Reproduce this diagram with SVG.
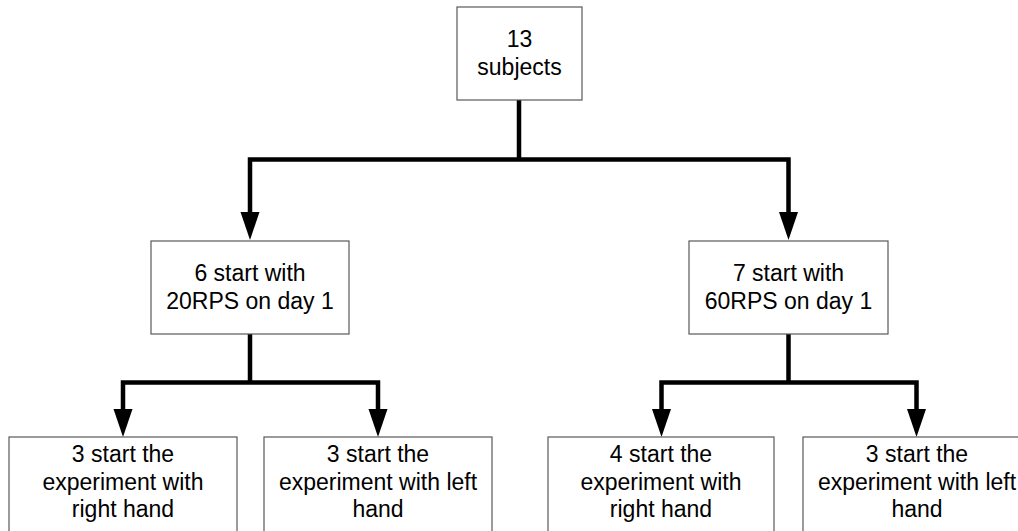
<svg xmlns="http://www.w3.org/2000/svg" width="1018" height="531" viewBox="0 0 1018 531">
<style>
.box{fill:#fff;stroke:#595959;stroke-width:1.2}
.t{font-family:"Liberation Sans",Arial,sans-serif;font-size:23px;fill:#000;text-anchor:middle}
.c{fill:none;stroke:#000;stroke-width:4.5;stroke-linejoin:miter}
.ah{fill:#000}
</style>
<g id="connectors">
<path class="c" d="M519,100 V159.5"/>
<path class="c" d="M250,212 V159.5 H788.5 V212"/>
<polygon class="ah" points="240.5,212 259.5,212 250,240"/>
<polygon class="ah" points="779,212 798,212 788.5,240"/>
<path class="c" d="M250,334 V382.5"/>
<path class="c" d="M123,409 V382.5 H378 V409"/>
<polygon class="ah" points="113.5,409 132.5,409 123,437"/>
<polygon class="ah" points="368.5,409 387.5,409 378,437"/>
<path class="c" d="M788.5,334 V382.5"/>
<path class="c" d="M661.5,409 V382.5 H916.5 V409"/>
<polygon class="ah" points="652,409 671,409 661.5,437"/>
<polygon class="ah" points="907,409 926,409 916.5,437"/>
</g>
<g id="n_root">
<rect class="box" x="457" y="7" width="125" height="93"/>
<text class="t" x="519.5" y="47">13</text>
<text class="t" x="519.5" y="74.5">subjects</text>
</g>
<g id="n_20rps">
<rect class="box" x="151" y="241" width="198" height="93"/>
<text class="t" x="250" y="280.5">6 start with</text>
<text class="t" x="250" y="309">20RPS on day 1</text>
</g>
<g id="n_60rps">
<rect class="box" x="689" y="241" width="199" height="93"/>
<text class="t" x="788.5" y="280.5">7 start with</text>
<text class="t" x="788.5" y="309">60RPS on day 1</text>
</g>
<g id="n_l_right">
<rect class="box" x="9" y="437" width="228" height="100"/>
<text class="t" x="123" y="462">3 start the</text>
<text class="t" x="123" y="489.5">experiment with</text>
<text class="t" x="123" y="517">right hand</text>
</g>
<g id="n_l_left">
<rect class="box" x="264" y="437" width="228" height="100"/>
<text class="t" x="378" y="462">3 start the</text>
<text class="t" x="378" y="489.5">experiment with left</text>
<text class="t" x="378" y="517">hand</text>
</g>
<g id="n_r_right">
<rect class="box" x="548" y="437" width="226" height="100"/>
<text class="t" x="661" y="462">4 start the</text>
<text class="t" x="661" y="489.5">experiment with</text>
<text class="t" x="661" y="517">right hand</text>
</g>
<g id="n_r_left">
<rect class="box" x="803" y="437" width="228" height="100"/>
<text class="t" x="917" y="462">3 start the</text>
<text class="t" x="917" y="489.5">experiment with left</text>
<text class="t" x="917" y="517">hand</text>
</g>
</svg>
